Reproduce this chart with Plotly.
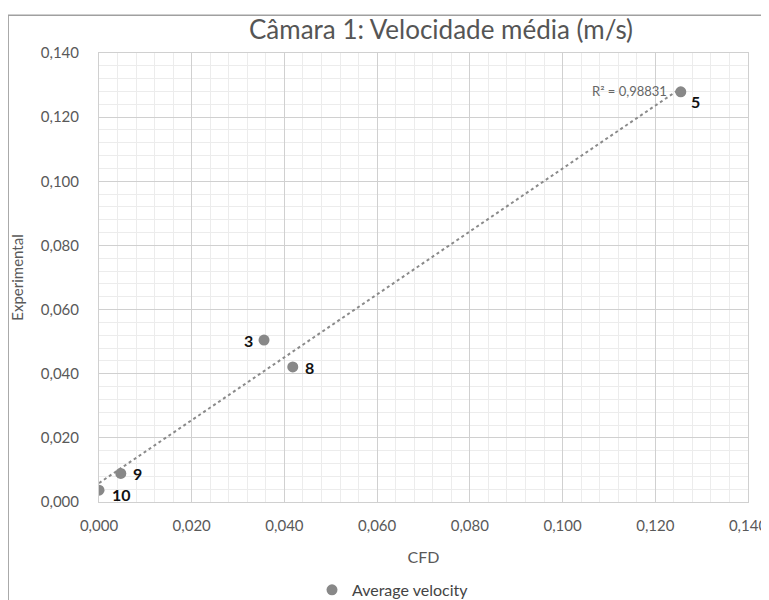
import numpy as np
import plotly.graph_objects as go

# data
cfd = [0.1255, 0.0356, 0.0418, 0.0047, 0.0000]
experimental = [0.1279, 0.0505, 0.0421, 0.0089, 0.0037]
point_labels = ["5", "3", "8", "9", "10"]
label_dx = [15, -16, 17, 17, 22]
label_dy = [-10, 0, -1, 0, -4]
r2_text = "R² = 0,98831"
tick_vals = [0, 0.02, 0.04, 0.06, 0.08, 0.10, 0.12, 0.14]
tick_text = ["0,000", "0,020", "0,040", "0,060", "0,080", "0,100", "0,120", "0,140"]

slope, intercept = np.polyfit(cfd, experimental, 1)
tx = [0.0, max(cfd)]
ty = [intercept + slope * v for v in tx]

font = "Lato, Open Sans, sans-serif"
fig = go.Figure()
fig.add_trace(go.Scatter(x=tx, y=ty, mode="lines", line=dict(color="#8a8a8a", width=2, dash="dot"),
                         showlegend=False, hoverinfo="skip"))
fig.add_trace(go.Scatter(x=cfd, y=experimental, mode="markers", name="Average velocity",
                         marker=dict(size=11, color="#888888")))

for xv, yv, t, dx, dy in zip(cfd, experimental, point_labels, label_dx, label_dy):
    fig.add_annotation(x=xv, y=yv, xref="x", yref="y", text="<b>%s</b>" % t, showarrow=False,
                       xshift=dx, yshift=dy, font=dict(size=16, color="#111111", family=font))

fig.add_annotation(x=0.1255, y=0.1283, xref="x", yref="y", text=r2_text, showarrow=False,
                   xanchor="right", xshift=-12, font=dict(size=13, color="#666666", family=font))

axis_common = dict(range=[0, 0.14], tickvals=tick_vals, ticktext=tick_text, showgrid=True,
                   gridcolor="#d0d0d0", gridwidth=1, zeroline=False, showline=True,
                   linecolor="#d0d0d0", mirror=True, ticks="", automargin=False,
                   tickfont=dict(size=15, color="#595959", family=font),
                   minor=dict(dtick=0.004, showgrid=True, gridcolor="#ececec", gridwidth=1))
fig.update_xaxes(**axis_common, ticklabelstandoff=10,
                 title=dict(text="CFD", font=dict(size=16, color="#595959", family=font), standoff=18))
fig.update_yaxes(**axis_common, ticklabelstandoff=16,
                 title=dict(text="Experimental", font=dict(size=15, color="#595959", family=font), standoff=14))

fig.add_shape(type="rect", xref="paper", yref="paper", x0=-0.14, x1=1.04, y0=-0.25, y1=1.084,
              line=dict(color="#a0a0a0", width=1.5), layer="below")

fig.update_layout(
    width=761, height=592,
    margin=dict(l=91, r=21, t=45, b=98),
    paper_bgcolor="white", plot_bgcolor="white",
    title=dict(text="Câmara 1: Velocidade média (m/s)", x=0.569, xanchor="center", y=0.963, yanchor="middle",
               font=dict(size=26, color="#555555", family=font)),
    legend=dict(orientation="h", x=0.453, xanchor="center", y=0.017, yanchor="middle", yref="container",
                itemwidth=30, font=dict(size=16, color="#444444", family=font)),
)

fig.write_html("out.html")
